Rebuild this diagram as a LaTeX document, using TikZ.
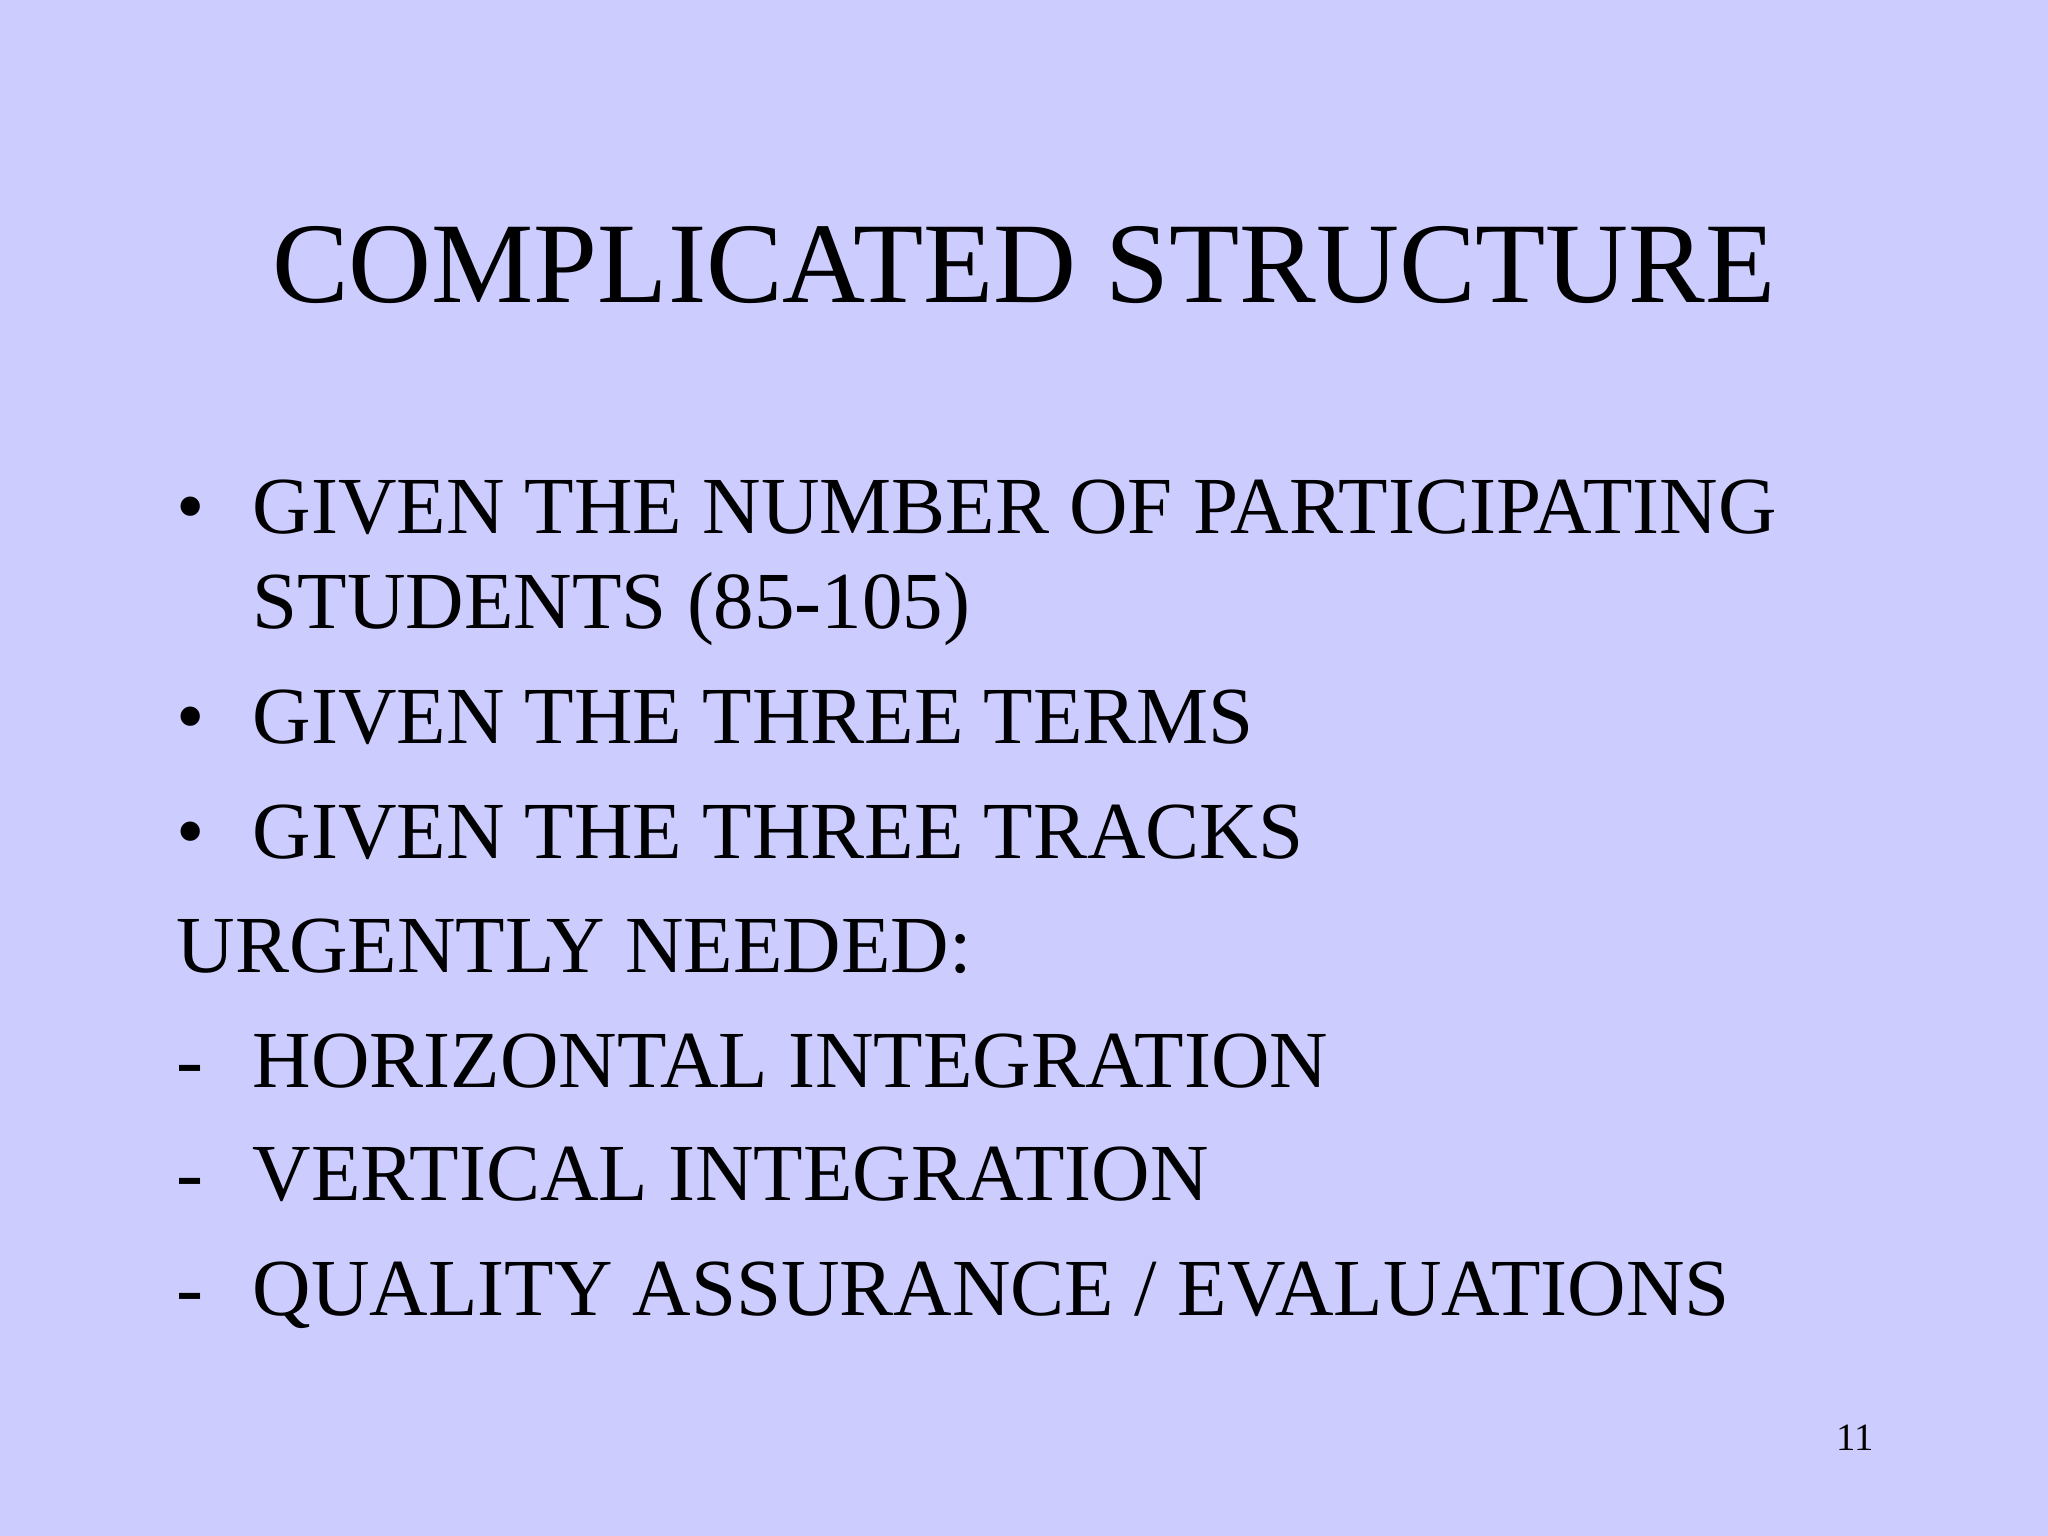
\documentclass[tikz,border=0pt]{standalone}
\usepackage{fontspec}
\setmainfont{Liberation Serif}
\definecolor{bg}{HTML}{CCCCFF}
\begin{document}
\begin{tikzpicture}[x=1cm,y=1cm,
  body/.style={anchor=base west,inner sep=0pt,font=\fontsize{23.05pt}{28pt}\selectfont}]
\fill[bg] (0,0) rectangle (20.48,-15.36);
\useasboundingbox (0,0) rectangle (20.48,-15.36);
\node[anchor=base,inner sep=0pt,font=\fontsize{32.7pt}{40pt}\selectfont] (title) at (10.24,-3.03) {COMPLICATED STRUCTURE};
\node[body] (b1) at (1.76,-5.33) {•};
\node[body] (t1) at (2.52,-5.33) {GIVEN THE NUMBER OF PARTICIPATING};
\node[body] (t1b) at (2.52,-6.29) {STUDENTS (85-105)};
\node[body] (b2) at (1.76,-7.43) {•};
\node[body] (t2) at (2.52,-7.43) {GIVEN THE THREE TERMS};
\node[body] (b3) at (1.76,-8.58) {•};
\node[body] (t3) at (2.52,-8.58) {GIVEN THE THREE TRACKS};
\node[body] (u) at (1.76,-9.73) {URGENTLY NEEDED:};
\node[body] (d1) at (1.76,-10.87) {-};
\node[body] (h) at (2.52,-10.87) {HORIZONTAL INTEGRATION};
\node[body] (d2) at (1.76,-12.00) {-};
\node[body] (v) at (2.52,-12.00) {VERTICAL INTEGRATION};
\node[body] (d3) at (1.76,-13.15) {-};
\node[body] (q) at (2.52,-13.15) {QUALITY ASSURANCE / EVALUATIONS};
\node[anchor=base,inner sep=0pt,font=\fontsize{11pt}{13pt}\selectfont] (num) at (18.55,-14.50) {11};
\end{tikzpicture}
\end{document}
